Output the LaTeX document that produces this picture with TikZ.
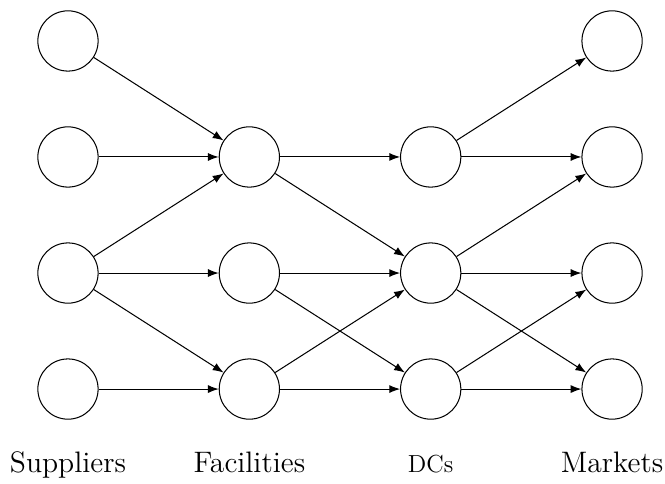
\documentclass[tikz,border=0pt]{standalone}
\usepackage{tikz}
\usetikzlibrary{arrows.meta, positioning}

\begin{document}
\begin{tikzpicture}[
    >=Latex,
    % network node
    site/.style={
        circle, draw=black, line width=0.5pt,
        minimum size=1.03cm, inner sep=0pt
    },
    % flow arrow
    flow/.style={->, line width=0.5pt},
    % tier label under each column
    tier/.style={anchor=base, font=\Large}
]
\useasboundingbox (-1.162, -1.607) rectangle (10.205, 6.65);
% ── Suppliers (x = 0) ────────────────────────────────────────
\node[site] (s1) at (0, 5.95) {};
\node[site] (s2) at (0, 3.967) {};
\node[site] (s3) at (0, 1.983) {};
\node[site] (s4) at (0, 0) {};
% ── Facilities (x = 3.1) ─────────────────────────────────────
\node[site] (f1) at (3.1, 3.967) {};
\node[site] (f2) at (3.1, 1.983) {};
\node[site] (f3) at (3.1, 0) {};
% ── DCs (x = 6.2) ────────────────────────────────────────────
\node[site] (d1) at (6.2, 3.967) {};
\node[site] (d2) at (6.2, 1.983) {};
\node[site] (d3) at (6.2, 0) {};
% ── Markets (x = 9.3) ────────────────────────────────────────
\node[site] (m1) at (9.3, 5.95) {};
\node[site] (m2) at (9.3, 3.967) {};
\node[site] (m3) at (9.3, 1.983) {};
\node[site] (m4) at (9.3, 0) {};
% ── Column labels ────────────────────────────────────────────
\node[tier] (lsup) at (0, -1.42) {Suppliers};
\node[tier] (lfac) at (3.1, -1.42) {Facilities};
\node[tier, font=\large] (ldc) at (6.2, -1.42) {DCs};
\node[tier] (lmkt) at (9.3, -1.42) {Markets};
% ── Arrows: suppliers to facilities ──────────────────────────
\draw[flow] (s1) -- (f1);
\draw[flow] (s2) -- (f1);
\draw[flow] (s3) -- (f1);
\draw[flow] (s3) -- (f2);
\draw[flow] (s3) -- (f3);
\draw[flow] (s4) -- (f3);
% ── Arrows: facilities to DCs ────────────────────────────────
\draw[flow] (f1) -- (d1);
\draw[flow] (f1) -- (d2);
\draw[flow] (f2) -- (d2);
\draw[flow] (f2) -- (d3);
\draw[flow] (f3) -- (d2);
\draw[flow] (f3) -- (d3);
% ── Arrows: DCs to markets ───────────────────────────────────
\draw[flow] (d1) -- (m1);
\draw[flow] (d1) -- (m2);
\draw[flow] (d2) -- (m2);
\draw[flow] (d2) -- (m3);
\draw[flow] (d2) -- (m4);
\draw[flow] (d3) -- (m3);
\draw[flow] (d3) -- (m4);
\end{tikzpicture}
\end{document}
